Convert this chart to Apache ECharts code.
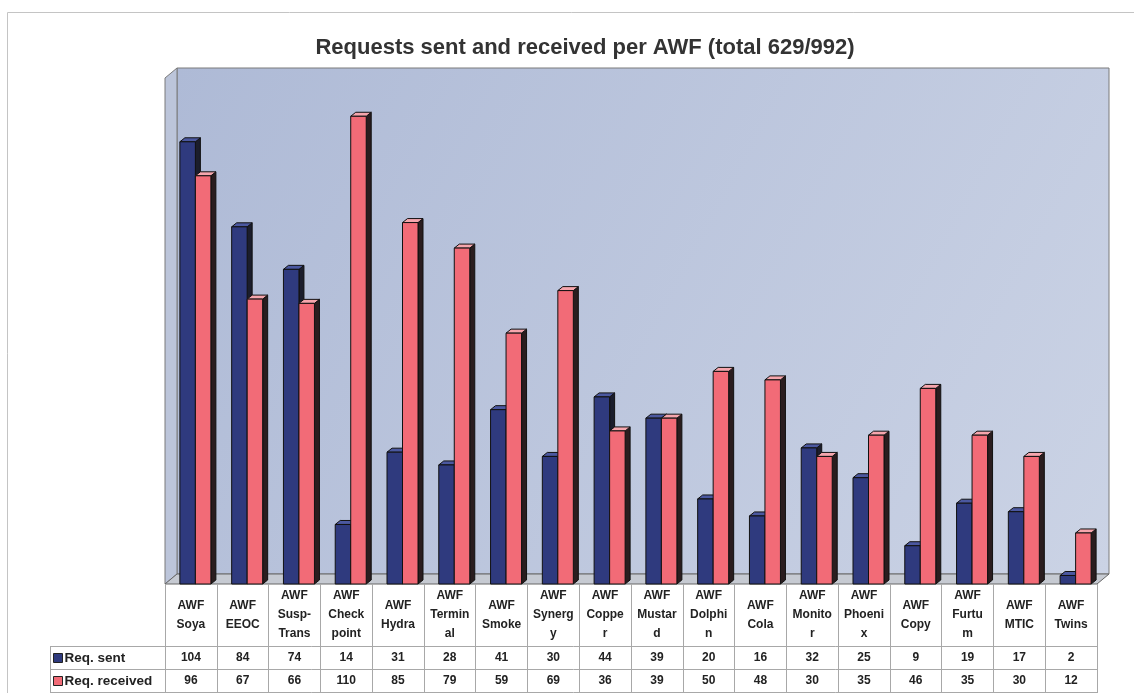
<!DOCTYPE html>
<html>
<head>
<meta charset="utf-8">
<script src="https://cdn.jsdelivr.net/npm/echarts@6/dist/echarts.min.js"></script>
<style>
  html, body { margin: 0; padding: 0; background: #fff; }
  #main { width: 1134px; height: 693px; }
</style>
</head>
<body>
<div id="main"></div>
<script>
// data
const categories = ['AWF\nSoya', 'AWF\nEEOC', 'AWF\nSusp-\nTrans', 'AWF\nCheck\npoint', 'AWF\nHydra',
  'AWF\nTermin\nal', 'AWF\nSmoke', 'AWF\nSynerg\ny', 'AWF\nCoppe\nr', 'AWF\nMustar\nd',
  'AWF\nDolphi\nn', 'AWF\nCola', 'AWF\nMonito\nr', 'AWF\nPhoeni\nx', 'AWF\nCopy',
  'AWF\nFurtu\nm', 'AWF\nMTIC', 'AWF\nTwins']
const sent = [104, 84, 74, 14, 31, 28, 41, 30, 44, 39, 20, 16, 32, 25, 9, 19, 17, 2]
const received = [96, 67, 66, 110, 85, 79, 59, 69, 36, 39, 50, 48, 30, 35, 46, 35, 30, 12]
const seriesNames = ['Req. sent', 'Req. received']

// layout of the 3D box
const L = 165, R = 1097, T = 78, B = 584
const DX = 12, DY = 10
const BAR_W = 15.5, BD_X = 5, BD_Y = 4
const FONT = 'Liberation Sans, Arial, sans-serif'

function bar3d (offset, front, top, side) {
  return function (params, api) {
    let i = api.value(0)
    let base = api.coord([i, 0])
    let head = api.coord([i, api.value(1)])
    let x0 = base[0] + offset
    let x1 = x0 + BAR_W
    let y0 = base[1]
    let y1 = head[1]
    let line = {stroke: '#111', lineWidth: 1}
    return {
      type: 'group',
      children: [
        {type: 'polygon', shape: {points: [[x1, y1], [x1 + BD_X, y1 - BD_Y], [x1 + BD_X, y0 - BD_Y], [x1, y0]]},
          style: Object.assign({fill: side}, line)},
        {type: 'polygon', shape: {points: [[x0, y1], [x0 + BD_X, y1 - BD_Y], [x1 + BD_X, y1 - BD_Y], [x1, y1]]},
          style: Object.assign({fill: top}, line)},
        {type: 'rect', shape: {x: x0, y: y1, width: BAR_W, height: y0 - y1},
          style: Object.assign({fill: front}, line)}
      ]
    }
  }
}

let tableLines = []
;[646.5, 669.5, 692.5].forEach(function (y) {
  tableLines.push({type: 'line', shape: {x1: 50, y1: y, x2: R, y2: y}, style: {stroke: '#a8a8a8', lineWidth: 1}})
})
tableLines.push({type: 'line', shape: {x1: 50.5, y1: 646.5, x2: 50.5, y2: 693}, style: {stroke: '#a8a8a8', lineWidth: 1}})

let option = {
  backgroundColor: '#fff',
  animation: false,
  title: {
    text: 'Requests sent and received per AWF (total 629/992)',
    left: 580,
    top: 32,
    textAlign: 'center',
    textStyle: {fontFamily: FONT, fontWeight: 'bold', fontSize: 22, color: '#333'}
  },
  legend: {
    data: seriesNames,
    orient: 'vertical',
    left: 53,
    top: 650,
    padding: 0,
    itemGap: 7,
    itemWidth: 9,
    itemHeight: 9,
    icon: 'rect',
    itemStyle: {borderColor: '#222', borderWidth: 1},
    textStyle: {fontFamily: FONT, fontWeight: 'bold', fontSize: 13.5, color: '#222', lineHeight: 16, padding: [0, 0, 0, -3]}
  },
  grid: {left: L, right: 1134 - R, top: T, bottom: 693 - B, containLabel: false, outerBoundsMode: 'none'},
  xAxis: [
    {
      type: 'category',
      position: 'bottom',
      data: categories,
      axisLine: {show: false},
      axisTick: {show: true, interval: 0, length: 109, lineStyle: {color: '#a8a8a8'}},
      axisLabel: {interval: 0, margin: 31, verticalAlign: 'middle', lineHeight: 19,
        fontFamily: FONT, fontWeight: 'bold', fontSize: 12, color: '#222'}
    },
    {
      type: 'category',
      position: 'bottom',
      offset: 0,
      data: categories,
      axisLine: {show: false},
      axisTick: {show: false},
      axisLabel: {interval: 0, margin: 74, verticalAlign: 'middle',
        formatter: function (v, i) { return String(sent[i]) },
        fontFamily: FONT, fontWeight: 'bold', fontSize: 12, color: '#222'}
    },
    {
      type: 'category',
      position: 'bottom',
      offset: 0,
      data: categories,
      axisLine: {show: false},
      axisTick: {show: false},
      axisLabel: {interval: 0, margin: 97, verticalAlign: 'middle',
        formatter: function (v, i) { return String(received[i]) },
        fontFamily: FONT, fontWeight: 'bold', fontSize: 12, color: '#222'}
    }
  ],
  yAxis: {type: 'value', min: 0, max: 119, interval: 119, show: false, splitLine: {show: false}},
  graphic: [
    // page border
    {type: 'rect', shape: {x: 7.5, y: 12.5, width: 1300, height: 900}, style: {fill: 'none', stroke: '#c4c4c4', lineWidth: 1}, z: -10},
    // back wall
    {type: 'rect', shape: {x: L + DX, y: T - DY, width: R - L, height: B - T},
      style: {
        fill: new echarts.graphic.LinearGradient(0, 0, 1, 1, [
          {offset: 0, color: '#aebad6'},
          {offset: 1, color: '#cbd3e5'}
        ]),
        stroke: '#7a7a7a', lineWidth: 1
      }, z: -5},
    // left wall
    {type: 'polygon', shape: {points: [[L, T], [L + DX, T - DY], [L + DX, B - DY], [L, B]]},
      style: {fill: '#bcc5da', stroke: '#7a7a7a', lineWidth: 1}, z: -5},
    // floor
    {type: 'polygon', shape: {points: [[L, B], [L + DX, B - DY], [R + DX, B - DY], [R, B]]},
      style: {fill: '#c6cad2', stroke: '#666', lineWidth: 1}, z: -4}
  ].concat(tableLines),
  series: [
    {
      name: seriesNames[0],
      type: 'custom',
      xAxisIndex: 0,
      itemStyle: {color: '#2f3a7e'},
      encode: {x: 0, y: 1},
      renderItem: bar3d(-11, '#2f3a7e', '#4b58a0', '#1b1d2c'),
      data: sent.map(function (v, i) { return [i, v] })
    },
    {
      name: seriesNames[1],
      type: 'custom',
      xAxisIndex: 0,
      itemStyle: {color: '#f26b77'},
      encode: {x: 0, y: 1},
      renderItem: bar3d(4.5, '#f26b77', '#f6a6ad', '#2a1d1f'),
      data: received.map(function (v, i) { return [i, v] })
    }
  ]
}

let myChart = echarts.init(document.getElementById('main'))
myChart.setOption(option)
</script>
</body>
</html>
